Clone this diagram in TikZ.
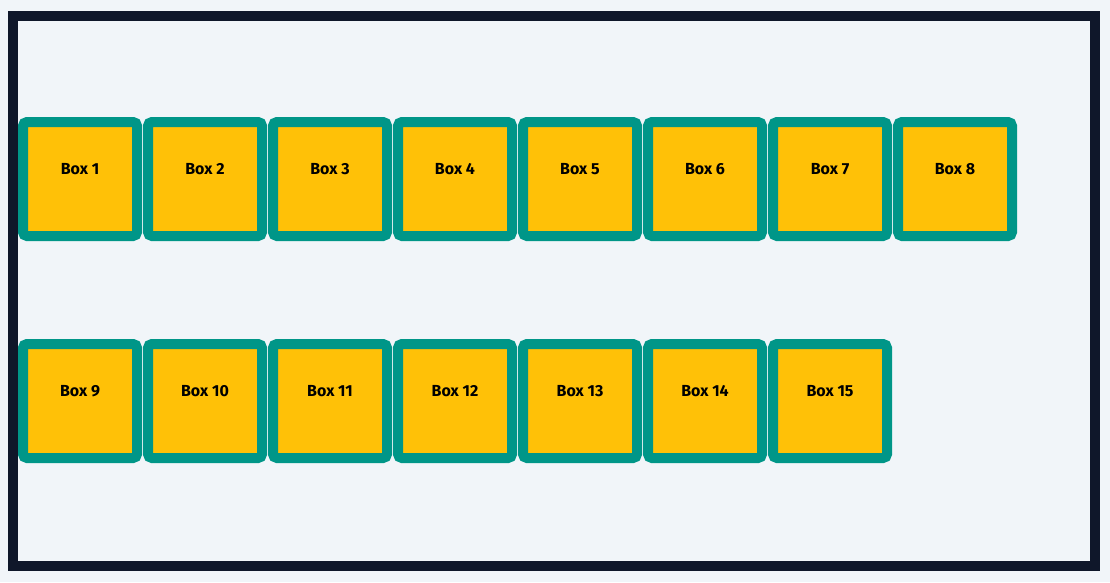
\documentclass[tikz,border=0pt]{standalone}
\usepackage{fontspec}
\setmainfont{Fira Sans}
\usetikzlibrary{calc}
\definecolor{bgc}{HTML}{F1F5F9}
\definecolor{framec}{HTML}{0F172A}
\definecolor{tealc}{HTML}{009688}
\definecolor{amberc}{HTML}{FFC107}
\tikzset{
  boxnode/.style={draw=tealc, fill=amberc, line width=10pt, rounded corners=4pt,
    minimum width=114pt, minimum height=114pt, inner sep=0pt, outer sep=0pt, anchor=north west},
  boxlabel/.style={font=\bfseries\fontsize{16}{19}\selectfont, text=black, inner sep=0pt}
}
\begin{document}
\begin{tikzpicture}[x=1pt,y=-1pt]
\useasboundingbox (0,0) rectangle (1110,582);
\fill[bgc] (0,0) rectangle (1110,582);
\draw[framec, line width=10pt] (13,16) rectangle (1095,566);
\foreach \i in {1,...,8} {
  \node[boxnode] (b\i) at ({23+(\i-1)*125},122) {};
  \node[boxlabel] (l\i) at ($(b\i.center)+(0,-10)$) {Box \i};
}
\foreach \i [evaluate=\i as \j using int(\i+8)] in {1,...,7} {
  \node[boxnode] (b\j) at ({23+(\i-1)*125},344) {};
  \node[boxlabel] (l\j) at ($(b\j.center)+(0,-10)$) {Box \j};
}
\end{tikzpicture}
\end{document}
